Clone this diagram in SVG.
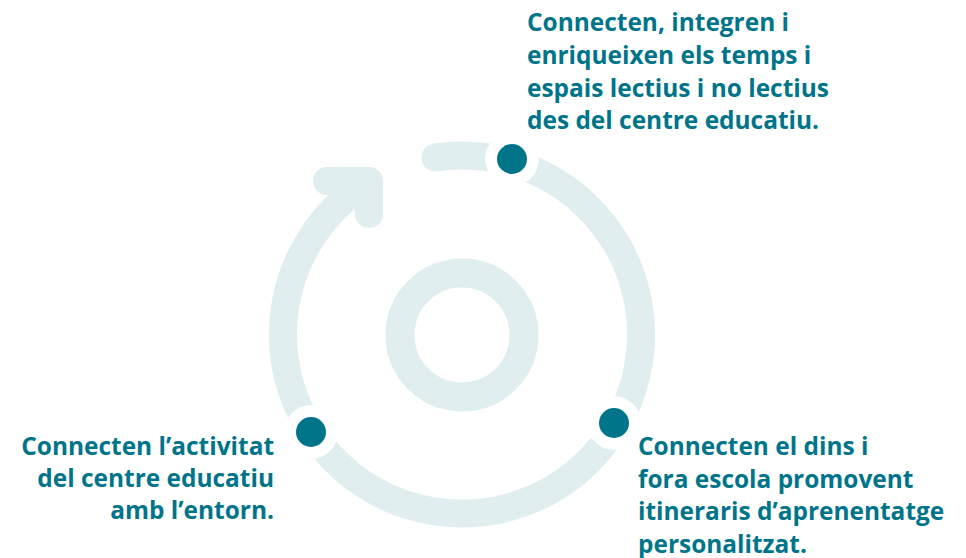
<svg xmlns="http://www.w3.org/2000/svg" width="966" height="558" viewBox="0 0 966 558">
<style>
.ring{fill:none;stroke:#e0eef0;stroke-width:28}
.halo{fill:#ffffff}
.dot{fill:#00758a}
.lbl{font-family:"Open Sans","Noto Sans","DejaVu Sans",sans-serif;font-weight:700;font-size:24.45px;fill:#00758a}
</style>
<rect width="966" height="558" fill="#ffffff"/>
<g id="connectors">
<path class="ring" d="M 435.4 157.5 A 179 179 0 1 1 367.5 182.5" stroke-linecap="round"/>
<path class="ring" d="M 327 181 L 369 181 L 369 214" stroke-linecap="round" stroke-linejoin="round"/>
</g>
<g id="center">
<circle cx="462" cy="335" r="62" fill="none" stroke="#e0eef0" stroke-width="29"/>
</g>
<g id="node-top">
<circle class="halo" cx="512" cy="159" r="27"/>
<circle class="dot" cx="512" cy="159" r="15"/>
<text class="lbl" x="527" y="31">Connecten, integren i</text>
<text class="lbl" x="527" y="64">enriqueixen els temps i</text>
<text class="lbl" x="527" y="97">espais lectius i no lectius</text>
<text class="lbl" x="527" y="129">des del centre educatiu.</text>
</g>
<g id="node-right">
<circle class="halo" cx="614" cy="423" r="27"/>
<circle class="dot" cx="614" cy="423" r="15"/>
<text class="lbl" x="638" y="455">Connecten el dins i</text>
<text class="lbl" x="638" y="487.5">fora escola promovent</text>
<text class="lbl" x="638" y="520">itineraris d’aprenentatge</text>
<text class="lbl" x="638" y="552.5">personalitzat.</text>
</g>
<g id="node-left">
<circle class="halo" cx="311" cy="432" r="27"/>
<circle class="dot" cx="311" cy="432" r="15"/>
<text class="lbl" x="274" y="455" text-anchor="end">Connecten l’activitat</text>
<text class="lbl" x="274" y="487" text-anchor="end">del centre educatiu</text>
<text class="lbl" x="274" y="519" text-anchor="end">amb l’entorn.</text>
</g>
</svg>
